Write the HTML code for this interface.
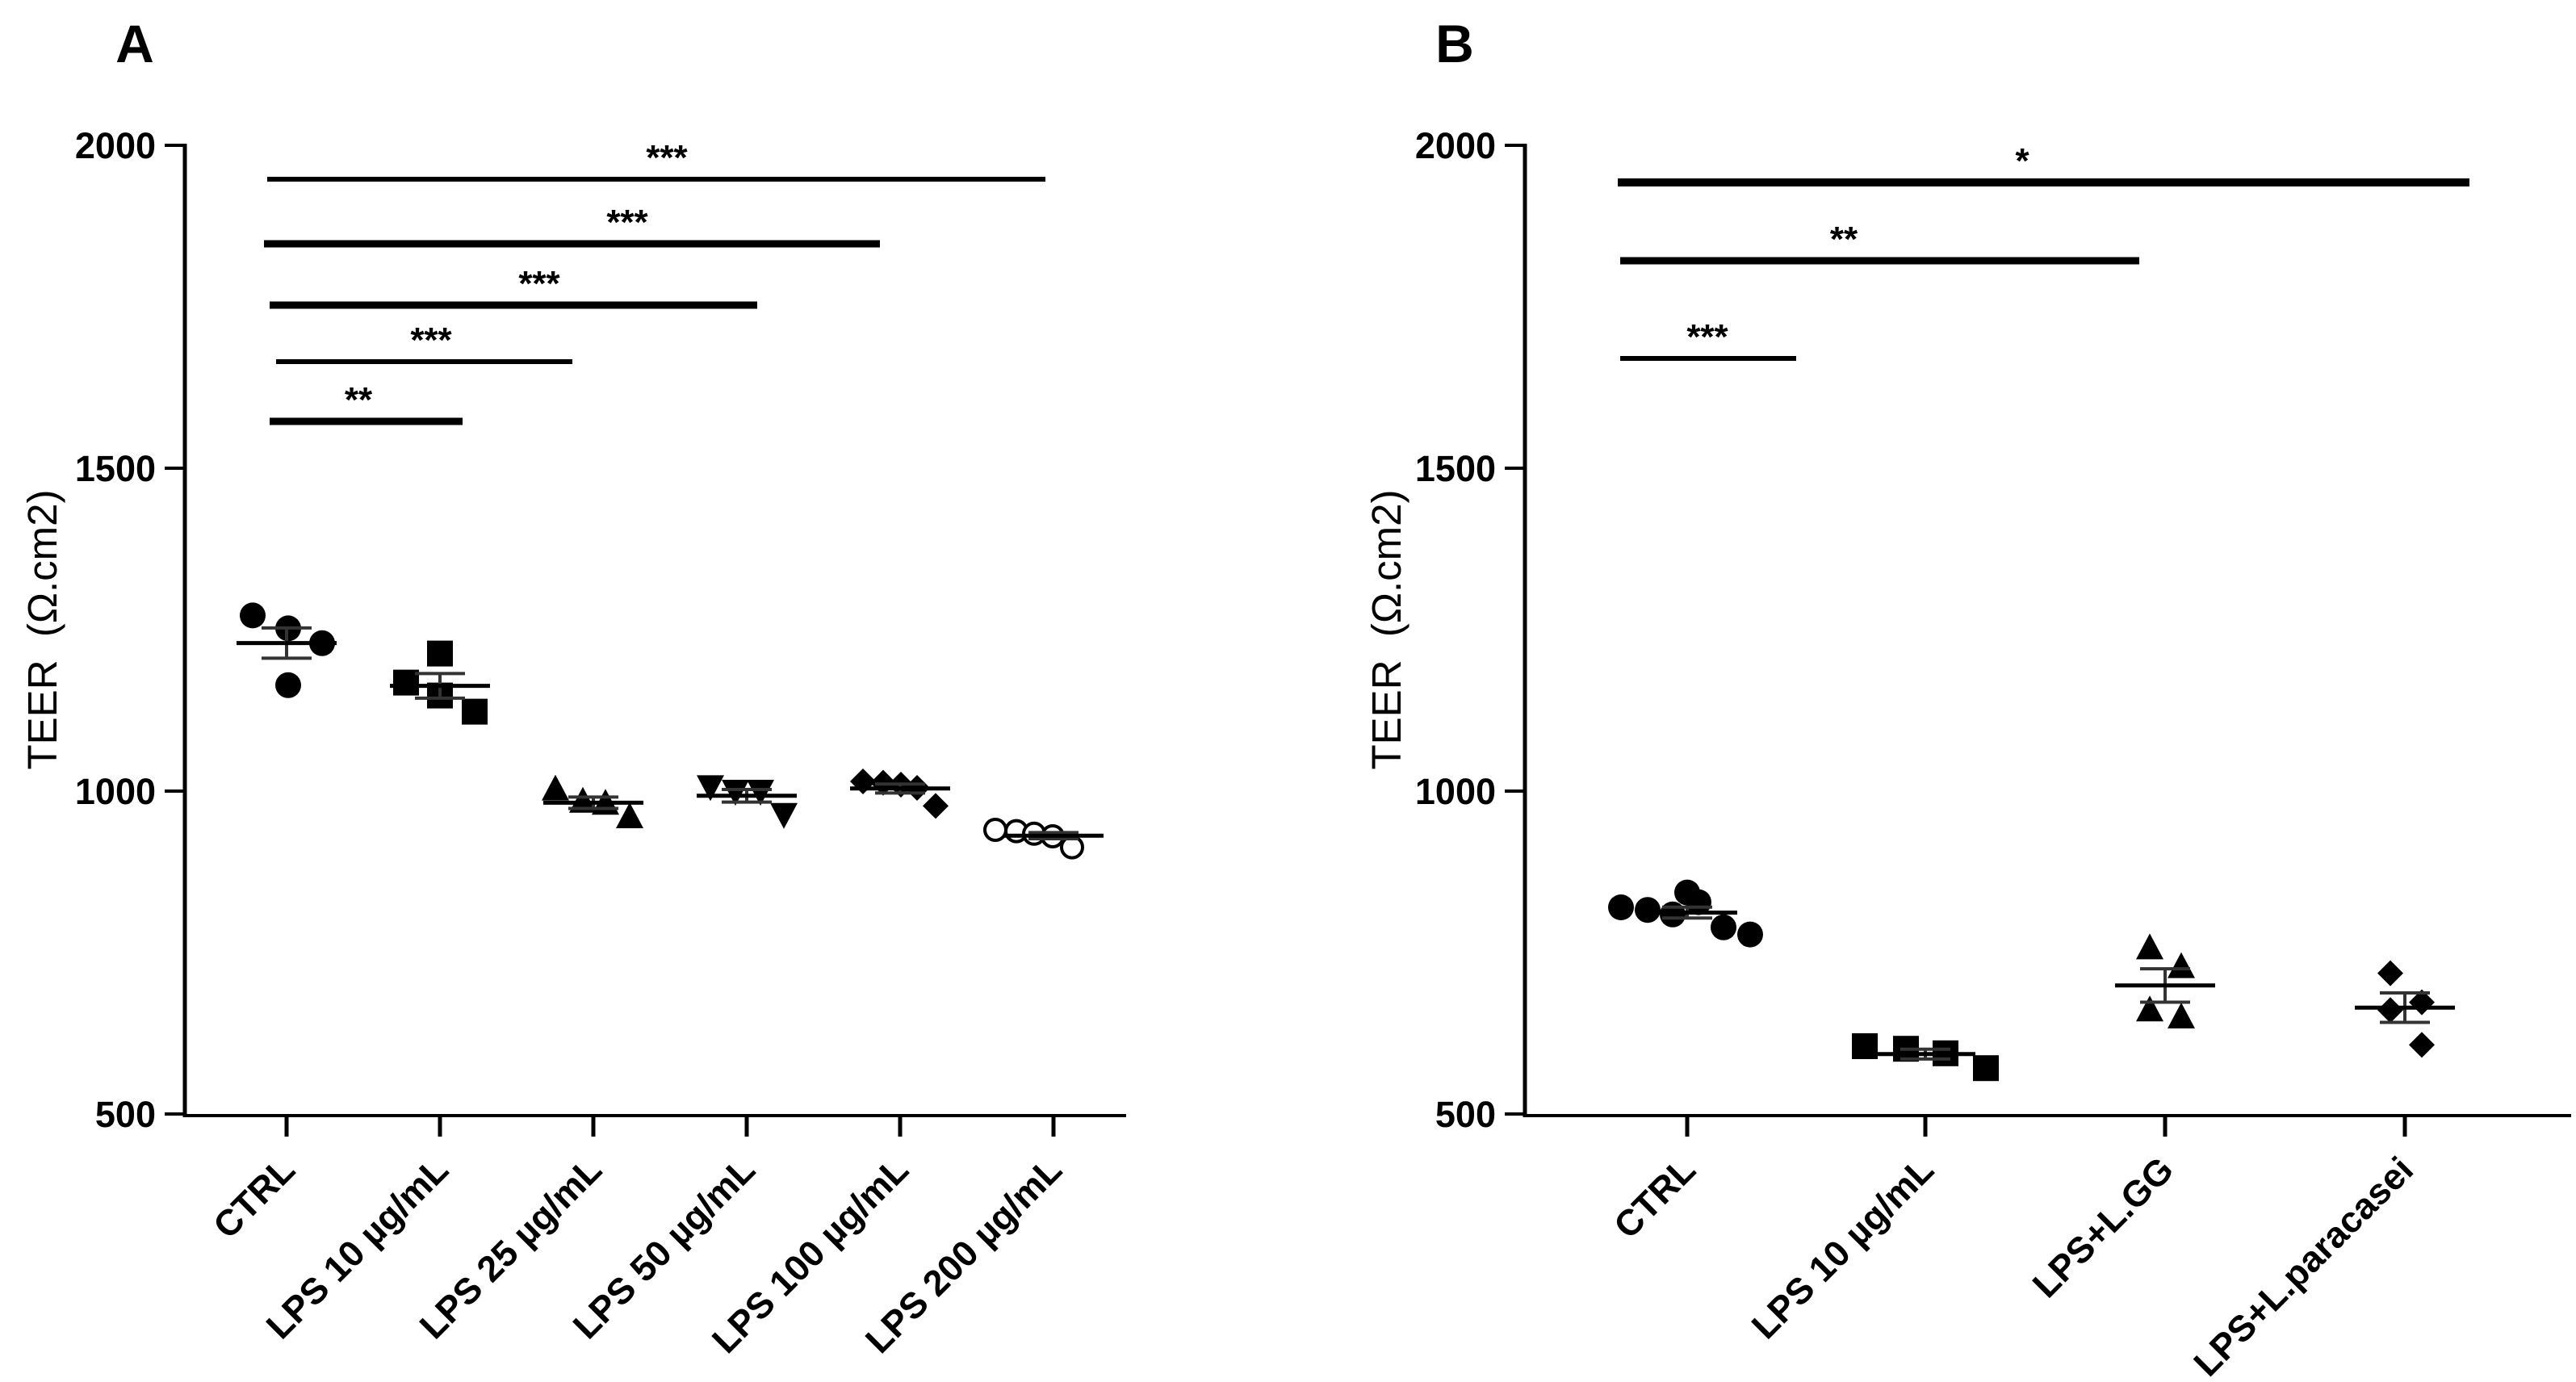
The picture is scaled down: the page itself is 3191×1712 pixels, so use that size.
<!DOCTYPE html>
<html><head><meta charset="utf-8"><style>
html,body{margin:0;padding:0;background:#fff;}
svg{display:block;font-family:"Liberation Sans",Arial,sans-serif;}
</style></head><body>
<svg id="fig" width="3191" height="1712" viewBox="0 0 3191 1712" xmlns="http://www.w3.org/2000/svg"></svg>
<script>
// ---- Panel A data ----
const catsA = ["CTRL","LPS 10 µg/mL","LPS 25 µg/mL","LPS 50 µg/mL","LPS 100 µg/mL","LPS 200 µg/mL"];
const valsA_ctrl = [1272,1252,1229,1164];
const valsA_lps10 = [1168,1213,1148,1123];
const valsA_lps25 = [1003,984,981,960];
const valsA_lps50 = [1007,1000,1000,964];
const valsA_lps100 = [1015,1013,1010,1005,977];
const valsA_lps200 = [940,938,934,930,913];
const sigA_labels = ["***","***","***","***","**"];
const sigA_to = [5,4,3,2,1];
// ---- Panel B data ----
const catsB = ["CTRL","LPS 10 µg/mL","LPS+L.GG","LPS+L.paracasei"];
const valsB_ctrl = [820,816,809,843,828,789,778];
const valsB_lps10 = [605,601,594,571];
const valsB_lgg = [757,728,661,650];
const valsB_para = [718,673,661,607];
const sigB_labels = ["*","**","***"];
const sigB_to = [3,2,1];
const yTicks = [500,1000,1500,2000];

const NS="http://www.w3.org/2000/svg";
const svg=document.getElementById('fig');
function mk(tag,attrs,parent){const e=document.createElementNS(NS,tag);for(const k in attrs)e.setAttribute(k,attrs[k]);(parent||svg).appendChild(e);return e;}

function yScale(v){return 1380-(v-500)*(1200/1500);}

function marker(g,shape,x,y){
  const s=16;let e;
  if(shape==='circle'){e=mk('circle',{cx:x,cy:y,r:s,fill:'#000'},g);}
  else if(shape==='ocircle'){e=mk('circle',{cx:x,cy:y,r:s-3,fill:'#fff',stroke:'#000','stroke-width':4},g);}
  else if(shape==='square'){e=mk('rect',{x:x-s,y:y-s,width:2*s,height:2*s,fill:'#000'},g);}
  else if(shape==='tri'){e=mk('polygon',{points:`${x},${y-s-2} ${x+s+1},${y+s-2} ${x-s-1},${y+s-2}`,fill:'#000'},g);}
  else if(shape==='itri'){e=mk('polygon',{points:`${x},${y+s+2} ${x+s+1},${y-s+2} ${x-s-1},${y-s+2}`,fill:'#000'},g);}
  else {e=mk('polygon',{points:`${x},${y-s} ${x+s},${y} ${x},${y+s} ${x-s},${y}`,fill:'#000'},g);}
  
  
}

function panel(cfg){
  const g=mk('g',{});
  
  
  const L=mk('text',{x:cfg.letterX,y:77,'font-size':66,'font-weight':'bold','text-anchor':'middle'},g);
  L.textContent=cfg.letter;
  
  
  const ya=mk('line',{x1:cfg.ax,y1:178,x2:cfg.ax,y2:1384,stroke:'#000','stroke-width':5},g);
  
  
  yTicks.forEach(t=>{
    const y=yScale(t);
    const tk=mk('line',{x1:cfg.ax-25,y1:y,x2:cfg.ax,y2:y,stroke:'#000','stroke-width':4},g);
    
    
    const tl=mk('text',{x:cfg.ax-36,y:y+16,'font-size':45,'font-weight':'bold','text-anchor':'end'},g);
    tl.textContent=t;
    
    
  });
  const yt=mk('text',{x:0,y:0,'font-size':51,'text-anchor':'middle',style:'white-space:pre',transform:`translate(${cfg.titleX},780) rotate(-90)`},g);
  yt.textContent='TEER  (Ω.cm2)';
  
  
  const xa=mk('line',{x1:cfg.ax-2,y1:1382,x2:cfg.axEnd,y2:1382,stroke:'#000','stroke-width':4},g);
  
  
  cfg.cats.forEach((c,i)=>{
    const x=cfg.cx[i];
    const tk=mk('line',{x1:x,y1:1382,x2:x,y2:1408,stroke:'#000','stroke-width':5},g);
    
    
    const tl=mk('text',{x:0,y:0,'font-size':45,'font-weight':'bold','text-anchor':'end',transform:`translate(${x+13},1452) rotate(-45)`},g);
    tl.textContent=c;
    
    
  });
  cfg.series.forEach((vals,i)=>{
    const x0=cfg.cx[i];
    const sg=mk('g',{},g);
    
    
    vals.forEach((v,j)=>marker(sg,cfg.shapes[i],x0+cfg.jit[i][j],yScale(v)));
    const n=vals.length,m=vals.reduce((a,b)=>a+b,0)/n;
    const sd=Math.sqrt(vals.reduce((a,b)=>a+(b-m)*(b-m),0)/(n-1)),se=sd/Math.sqrt(n);
    const ec='#333';
    const ev=mk('line',{x1:x0,y1:yScale(m+se),x2:x0,y2:yScale(m-se),stroke:ec,'stroke-width':4},sg);
    
    
    [m+se,m-se].forEach(v=>{
      const cp=mk('line',{x1:x0-31,y1:yScale(v),x2:x0+31,y2:yScale(v),stroke:ec,'stroke-width':4},sg);
      
      
    });
    const ml=mk('line',{x1:x0-62,y1:yScale(m),x2:x0+62,y2:yScale(m),stroke:'#000','stroke-width':5},sg);
    
    
  });
  cfg.sigY.forEach((y,i)=>{
    const b=mk('line',{x1:cfg.sigX0[i],y1:y,x2:cfg.cx[cfg.sigTo[i]]-10+cfg.sigEndAdj[i],y2:y,stroke:'#000','stroke-width':cfg.sigW[i]},g);
    
    
    const t=mk('text',{x:cfg.starX[i],y:y-12,'font-size':44,'font-weight':'bold','text-anchor':'middle'},g);
    t.textContent=cfg.sigLabels[i];
    
    
  });
}

panel({name:'panel-a',letter:'A',letterX:167,ax:229,axEnd:1395,titleX:70,
  cats:catsA,cx:[355,545,735,925,1115,1305],
  series:[valsA_ctrl,valsA_lps10,valsA_lps25,valsA_lps50,valsA_lps100,valsA_lps200],
  shapes:['circle','square','tri','itri','diamond','ocircle'],
  jit:[[-42,2,44,2],[-42,0,0,43],[-47,-13,15,45],[-45,-14,17,46],[-46,-21,1,21,44],[-72,-46,-24,-1,23]],
  sigY:[222,302,378,448,522],sigW:[6,9,9,6,9],sigX0:[331,327,334,342,334],
  sigTo:sigA_to,sigEndAdj:[0,-15,23,-16,38],sigLabels:sigA_labels,starX:[826,777,668,534,444]});

panel({name:'panel-b',letter:'B',letterX:1802,ax:1889,axEnd:3185,titleX:1735,
  cats:catsB,cx:[2090,2385,2682,2979],
  series:[valsB_ctrl,valsB_lps10,valsB_lgg,valsB_para],
  shapes:['circle','square','tri','diamond'],
  jit:[[-82,-49,-18,0,14,45,78],[-75,-24,25,75],[-19,20,-19,20],[-18,21,-18,21]],
  sigY:[226,323,444],sigW:[10,9,6],sigX0:[2004,2007,2007],
  sigTo:sigB_to,sigEndAdj:[90,-22,-150],sigLabels:sigB_labels,starX:[2505,2284,2115]});
</script>
</body></html>
